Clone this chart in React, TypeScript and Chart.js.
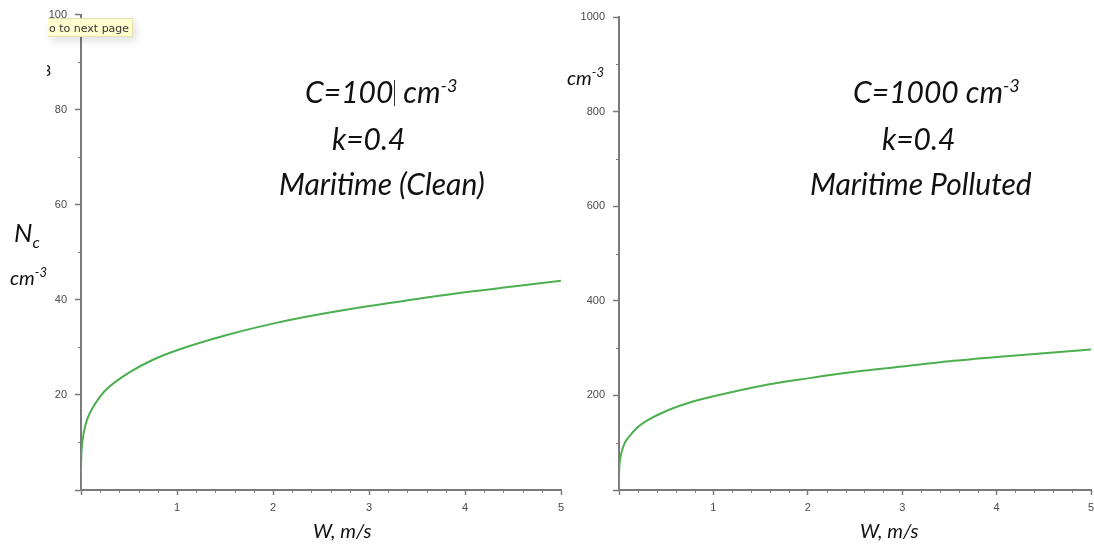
import React, { useEffect, useRef } from "react";
import { Chart, registerables } from "chart.js";

Chart.register(...registerables);

// Vertical velocity W (m/s) sample points
const wValues = [0, 0.0002, 0.001, 0.004, 0.01, 0.03, 0.06, 0.1, 0.2, 0.3, 0.5, 0.75, 1, 1.5, 2, 2.5, 3, 3.5, 4, 4.5, 5];
// Droplet number Nc (cm^-3), clean maritime (C=100, k=0.4)
const cleanNc = [0, 3.5, 5.2, 7.4, 9.3, 12.2, 14.6, 16.5, 19.7, 21.8, 24.7, 27.4, 29.4, 32.5, 35.0, 37.0, 38.7, 40.2, 41.6, 42.8, 44.0];
// Droplet number Nc (cm^-3), polluted maritime (C=1000, k=0.4)
const pollutedNc = [0, 24, 35, 50, 63, 82, 99, 111, 133, 147, 167, 185, 198, 220, 236, 250, 261, 272, 281, 289, 297];

const xTicks = [0, 1, 2, 3, 4, 5];
const leftYTicks = [0, 20, 40, 60, 80, 100];
const rightYTicks = [0, 200, 400, 600, 800, 1000];

const AXIS = "#7a7a7a";
const GREEN = "#4caf50";
const ANNOT_FONT = "Lato, 'Open Sans', sans-serif";
const TICK_FONT = { family: "'Liberation Sans', Arial, sans-serif", size: 11 };

const minorTicks = {
  id: "minorTicks",
  afterDraw(chart: any, _args: any, opts: any) {
    const ctx = chart.ctx;
    const xs = chart.scales.x;
    const ys = chart.scales.y;
    ctx.save();
    ctx.strokeStyle = AXIS;
    ctx.lineWidth = 1;
    for (let v = opts.xStep; v < xs.max; v += opts.xStep) {
      if (Math.abs(v - Math.round(v)) < 1e-6) continue;
      const px = Math.round(xs.getPixelForValue(v)) + 0.5;
      ctx.beginPath();
      ctx.moveTo(px, ys.bottom);
      ctx.lineTo(px, ys.bottom + 3);
      ctx.stroke();
    }
    for (let v = opts.yStep; v < ys.max; v += opts.yStep * 2) {
      const py = Math.round(ys.getPixelForValue(v)) + 0.5;
      ctx.beginPath();
      ctx.moveTo(xs.left - 3, py);
      ctx.lineTo(xs.left, py);
      ctx.stroke();
    }
    ctx.restore();
  },
};

function Panel(props: {
  values: number[];
  yTicks: number[];
  yMinorStep: number;
  left: number;
  width: number;
  axisLeft: number;
  top: number;
  right: number;
}) {
  const ref = useRef<HTMLCanvasElement>(null);
  useEffect(() => {
    if (!ref.current) return;
    const yMax = props.yTicks[props.yTicks.length - 1];
    const chart = new Chart(ref.current, {
      type: "line",
      data: {
        datasets: [
          {
            data: wValues.map((w, i) => ({ x: w, y: props.values[i] })),
            borderColor: GREEN,
            borderWidth: 2,
            pointRadius: 0,
            cubicInterpolationMode: "monotone",
            fill: false,
          },
        ],
      },
      options: {
        animation: false,
        responsive: false,
        events: [],
        layout: { padding: { top: props.top, right: props.right, left: 0, bottom: 0 } },
        plugins: {
          legend: { display: false },
          tooltip: { enabled: false },
          minorTicks: { xStep: 0.2, yStep: props.yMinorStep },
        } as any,
        scales: {
          x: {
            type: "linear",
            min: 0,
            max: 5,
            afterBuildTicks: (s: any) => {
              s.ticks = xTicks.map((v) => ({ value: v }));
            },
            afterFit: (s: any) => {
              s.height = 58;
            },
            border: { display: true, color: AXIS, width: 2 },
            grid: { drawOnChartArea: false, drawTicks: true, tickLength: 5, tickColor: AXIS, tickWidth: 1.5 },
            ticks: {
              padding: 6,
              color: "#4a4a4a",
              font: TICK_FONT,
              maxRotation: 0,
              callback: (v: any) => (v === 0 ? "" : String(v)),
            },
          },
          y: {
            type: "linear",
            min: 0,
            max: yMax,
            afterBuildTicks: (s: any) => {
              s.ticks = props.yTicks.map((v) => ({ value: v }));
            },
            afterFit: (s: any) => {
              s.width = props.axisLeft;
            },
            border: { display: true, color: AXIS, width: 2 },
            grid: { drawOnChartArea: false, drawTicks: true, tickLength: 6, tickColor: AXIS, tickWidth: 1.5 },
            ticks: {
              padding: 8,
              color: "#4a4a4a",
              font: TICK_FONT,
              callback: (v: any) => (v === 0 ? "" : String(v)),
            },
          },
        },
      },
      plugins: [minorTicks],
    });
    return () => chart.destroy();
  }, []);
  return (
    <canvas
      ref={ref}
      width={props.width}
      height={548}
      style={{ position: "absolute", left: props.left, top: 0, width: props.width, height: 548 }}
    />
  );
}

const annot: React.CSSProperties = {
  position: "absolute",
  fontFamily: ANNOT_FONT,
  fontStyle: "italic",
  color: "#111",
  whiteSpace: "nowrap",
  lineHeight: 1,
};

function Text(p: { x: number; y: number; size: number; children: any }) {
  return <div style={{ ...annot, left: p.x, top: p.y, fontSize: p.size }}>{p.children}</div>;
}

export default function App() {
  return (
    <div
      style={{
        position: "absolute",
        left: 0,
        top: 0,
        width: 1094,
        height: 548,
        overflow: "hidden",
        background: "#fff",
      }}
    >
      <Panel values={cleanNc} yTicks={leftYTicks} yMinorStep={10} left={0} width={580} axisLeft={81} top={11} right={19} />
      <Panel values={pollutedNc} yTicks={rightYTicks} yMinorStep={100} left={560} width={560} axisLeft={59} top={17} right={29} />

      {/* left panel annotations */}
      <Text x={305} y={76} size={30}>
        C=100<span style={{ display: "inline-block", width: 1, height: 26, background: "#333", verticalAlign: "-3px", margin: "0 1px" }} /> cm<sup style={{ fontSize: 18 }}>-3</sup>
      </Text>
      <Text x={332} y={123} size={30}>k=0.4</Text>
      <Text x={279} y={168} size={30}>Maritime (Clean)</Text>
      <Text x={313} y={520} size={20}>W, m/s</Text>

      {/* left y-axis label */}
      <Text x={14} y={219} size={26}>
        N<sub style={{ fontSize: 16 }}>c</sub>
      </Text>
      <Text x={10} y={266} size={20}>
        cm<sup style={{ fontSize: 13 }}>-3</sup>
      </Text>

      {/* right panel annotations */}
      <Text x={853} y={76} size={30}>
        C=1000 cm<sup style={{ fontSize: 18 }}>-3</sup>
      </Text>
      <Text x={882} y={123} size={30}>k=0.4</Text>
      <Text x={810} y={168} size={30}>Maritime Polluted</Text>
      <Text x={860} y={520} size={20}>W, m/s</Text>
      <Text x={567} y={66} size={20}>
        cm<sup style={{ fontSize: 13 }}>-3</sup>
      </Text>

      {/* clipped fragment and tooltip at top-left */}
      <div style={{ position: "absolute", left: 47, top: 62, width: 6, height: 20, overflow: "hidden" }}>
        <div style={{ ...annot, left: -5, top: 0, fontSize: 16, fontStyle: "normal" }}>3</div>
      </div>
      <div
        style={{
          position: "absolute",
          left: 48,
          top: 18,
          width: 85,
          height: 19,
          background: "#ffffcf",
          border: "1px solid #e4e2b0",
          borderLeft: "none",
          boxShadow: "3px 4px 8px rgba(0,0,0,0.12)",
          fontFamily: "'DejaVu Sans', sans-serif",
          fontSize: 11,
          color: "#333",
          lineHeight: "19px",
          whiteSpace: "nowrap",
          overflow: "hidden",
          boxSizing: "border-box",
          paddingLeft: 1,
        }}
      >
        o to next page
      </div>
    </div>
  );
}
